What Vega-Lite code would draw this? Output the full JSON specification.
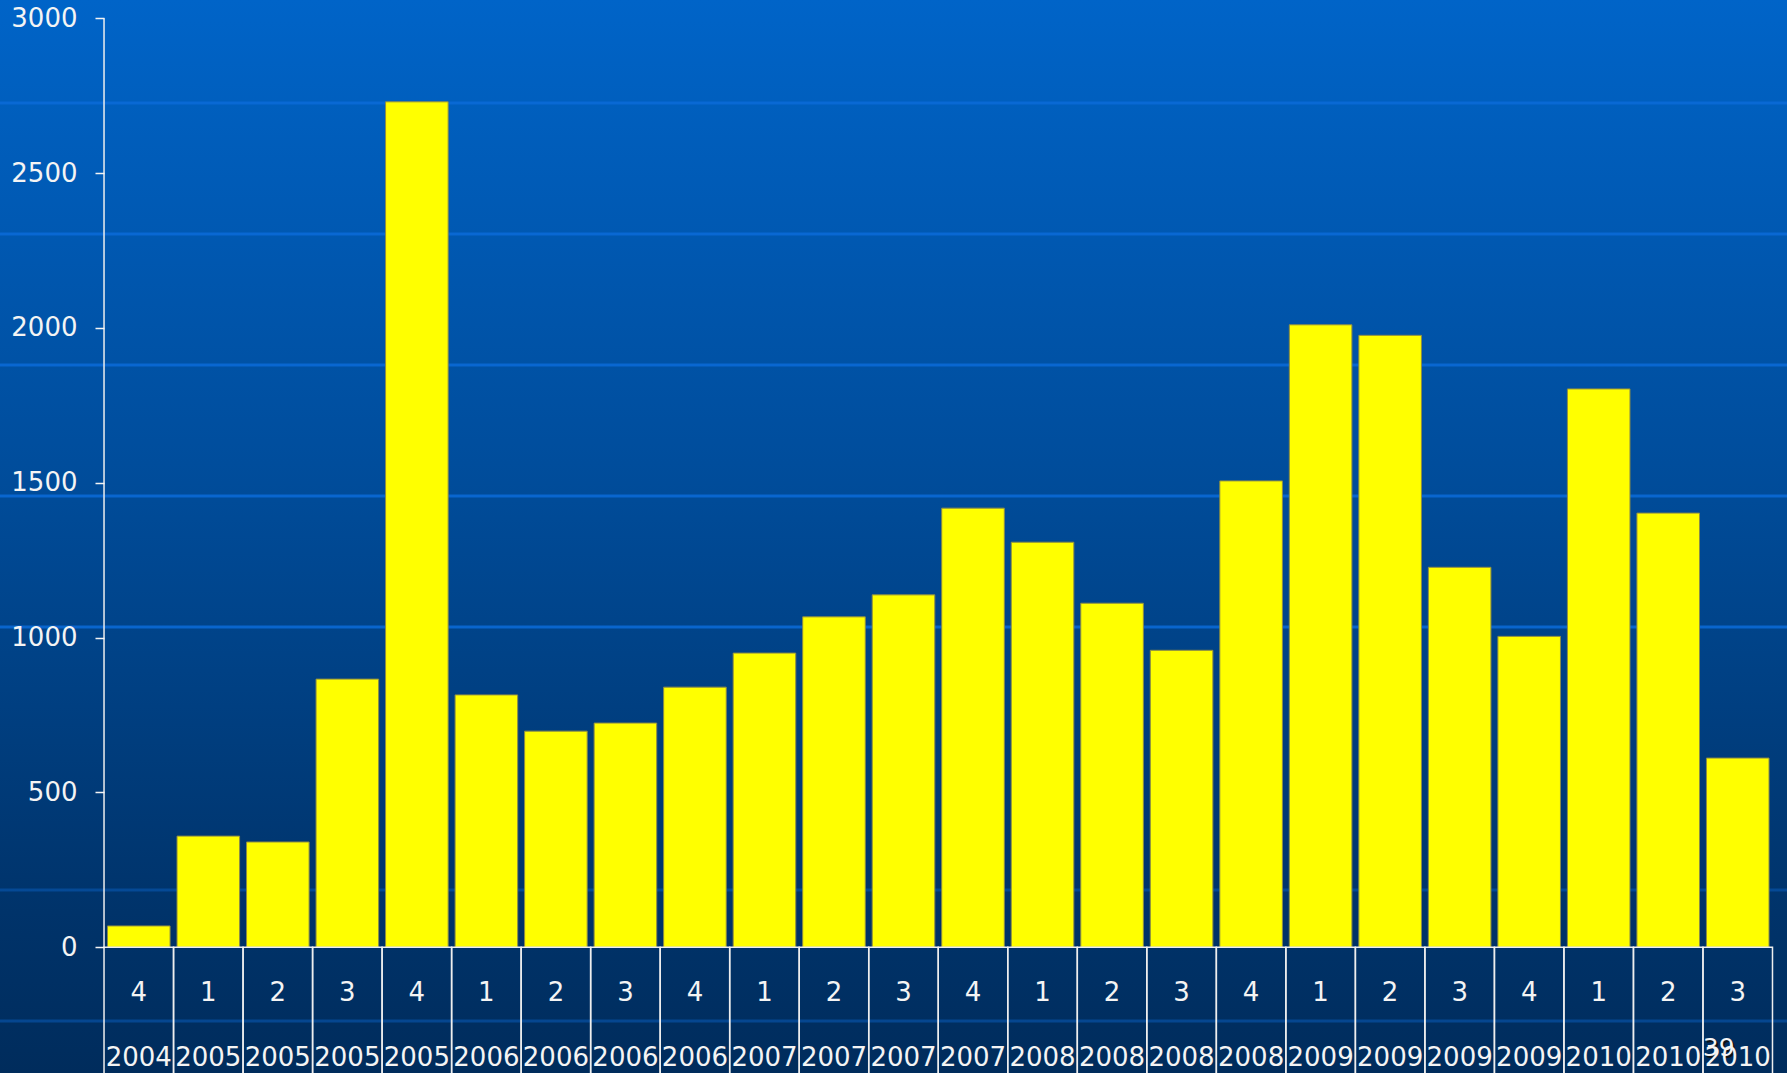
{
  "$schema": "https://vega.github.io/schema/vega-lite/v6.json",
  "width": 1787,
  "height": 1073,
  "autosize": {"type": "none"},
  "padding": 0,
  "background": "#002c5c",
  "config": {
    "view": {"stroke": null},
    "font": "DejaVu Sans",
    "axis": {"grid": false}
  },
  "datasets": {
    "quarterly": [
      {"period": "2004-4", "value": 69},
      {"period": "2005-1", "value": 359},
      {"period": "2005-2", "value": 340},
      {"period": "2005-3", "value": 866},
      {"period": "2005-4", "value": 2730},
      {"period": "2006-1", "value": 815},
      {"period": "2006-2", "value": 698},
      {"period": "2006-3", "value": 724},
      {"period": "2006-4", "value": 840},
      {"period": "2007-1", "value": 950},
      {"period": "2007-2", "value": 1067},
      {"period": "2007-3", "value": 1138},
      {"period": "2007-4", "value": 1418},
      {"period": "2008-1", "value": 1308},
      {"period": "2008-2", "value": 1111},
      {"period": "2008-3", "value": 959},
      {"period": "2008-4", "value": 1506},
      {"period": "2009-1", "value": 2010},
      {"period": "2009-2", "value": 1976},
      {"period": "2009-3", "value": 1227},
      {"period": "2009-4", "value": 1004},
      {"period": "2010-1", "value": 1803},
      {"period": "2010-2", "value": 1402},
      {"period": "2010-3", "value": 611}
    ],
    "backdrop": [
      {"level": 2726},
      {"level": 2303},
      {"level": 1880},
      {"level": 1457},
      {"level": 1034},
      {"level": 185},
      {"level": -238}
    ],
    "slide": [{"page": "39"}]
  },
  "layer": [
    {
      "data": {"values": [{}]},
      "mark": {
        "type": "rect",
        "fill": {
          "gradient": "linear",
          "x1": 0, "y1": 0, "x2": 0, "y2": 1,
          "stops": [
            {"offset": 0, "color": "#0064c8"},
            {"offset": 0.45, "color": "#004c9a"},
            {"offset": 0.85, "color": "#00336a"},
            {"offset": 1, "color": "#002c5c"}
          ]
        }
      },
      "encoding": {}
    },
    {
      "data": {"name": "backdrop"},
      "transform": [{"filter": "datum.level > 1000"}],
      "mark": {"type": "rule", "stroke": "#0a6bd8", "strokeWidth": 3, "opacity": 0.85},
      "encoding": {
        "y": {"field": "level", "type": "quantitative", "title": null, "scale": {"domain": [-405.9, 3058.8], "nice": false, "zero": false}}
      }
    },
    {
      "data": {"name": "backdrop"},
      "transform": [{"filter": "datum.level < 1000"}],
      "mark": {"type": "rule", "stroke": "#0a5bb8", "strokeWidth": 3, "opacity": 0.55},
      "encoding": {
        "y": {"field": "level", "type": "quantitative", "title": null, "scale": {"domain": [-405.9, 3058.8], "nice": false, "zero": false}}
      }
    },
    {
      "data": {"name": "quarterly"},
      "mark": {"type": "bar", "width": {"band": 0.9}, "fill": "#ffff00", "stroke": "#8c8c46", "strokeWidth": 1},
      "encoding": {
        "x": {
          "field": "period",
          "type": "nominal",
          "title": null,
          "scale": {"paddingInner": 0, "paddingOuter": 0.8525, "align": 0.8776, "round": false},
          "axis": {
            "orient": "bottom",
            "offset": -126,
            "zindex": 1,
            "domain": false,
            "ticks": false,
            "tickSize": 0,
            "labelAngle": 0,
            "labelOverlap": false,
            "labelFontSize": 26,
            "labelColor": "#f4f4f4",
            "labelPadding": 53,
            "labelBaseline": "alphabetic",
            "labelLineHeight": 65,
            "labelExpr": "[split(datum.label, '-')[1], split(datum.label, '-')[0]]"
          }
        },
        "y": {
          "field": "value",
          "type": "quantitative",
          "title": null,
          "scale": {"domain": [-405.9, 3058.8], "nice": false, "zero": false},
          "axis": {
            "orient": "left",
            "offset": -104,
            "zindex": 1,
            "domain": false,
            "format": "d",
            "values": [0, 500, 1000, 1500, 2000, 2500, 3000],
            "tickSize": 9,
            "tickWidth": 1.5,
            "tickColor": "#f4f4f4",
            "labelFontSize": 26,
            "labelColor": "#f4f4f4",
            "labelPadding": 18
          }
        },
        "y2": {"datum": 0}
      }
    },
    {
      "data": {"name": "quarterly"},
      "mark": {"type": "rect", "fill": null, "stroke": "#eeeeee", "strokeWidth": 1.5},
      "encoding": {
        "x": {"field": "period", "type": "nominal", "title": null},
        "y": {"datum": 0, "type": "quantitative", "title": null},
        "y2": {"datum": -500}
      }
    },
    {
      "data": {"values": [{}]},
      "mark": {"type": "rule", "stroke": "#eeeeee", "strokeWidth": 1.5},
      "encoding": {
        "x": {"datum": "2004-4", "type": "nominal", "bandPosition": 0, "title": null},
        "y": {"datum": 0, "type": "quantitative", "title": null},
        "y2": {"datum": 3000}
      }
    },
    {
      "data": {"name": "slide"},
      "mark": {"type": "text", "fontSize": 25, "color": "#111111", "dx": -17, "dy": 2},
      "encoding": {
        "x": {"datum": "2010-3", "type": "nominal", "title": null},
        "y": {"datum": -325, "type": "quantitative", "title": null},
        "text": {"field": "page"}
      }
    },
    {
      "data": {"name": "slide"},
      "mark": {"type": "text", "fontSize": 25, "color": "#f4f4f4", "dx": -19},
      "encoding": {
        "x": {"datum": "2010-3", "type": "nominal", "title": null},
        "y": {"datum": -325, "type": "quantitative", "title": null},
        "text": {"field": "page"}
      }
    }
  ]
}
